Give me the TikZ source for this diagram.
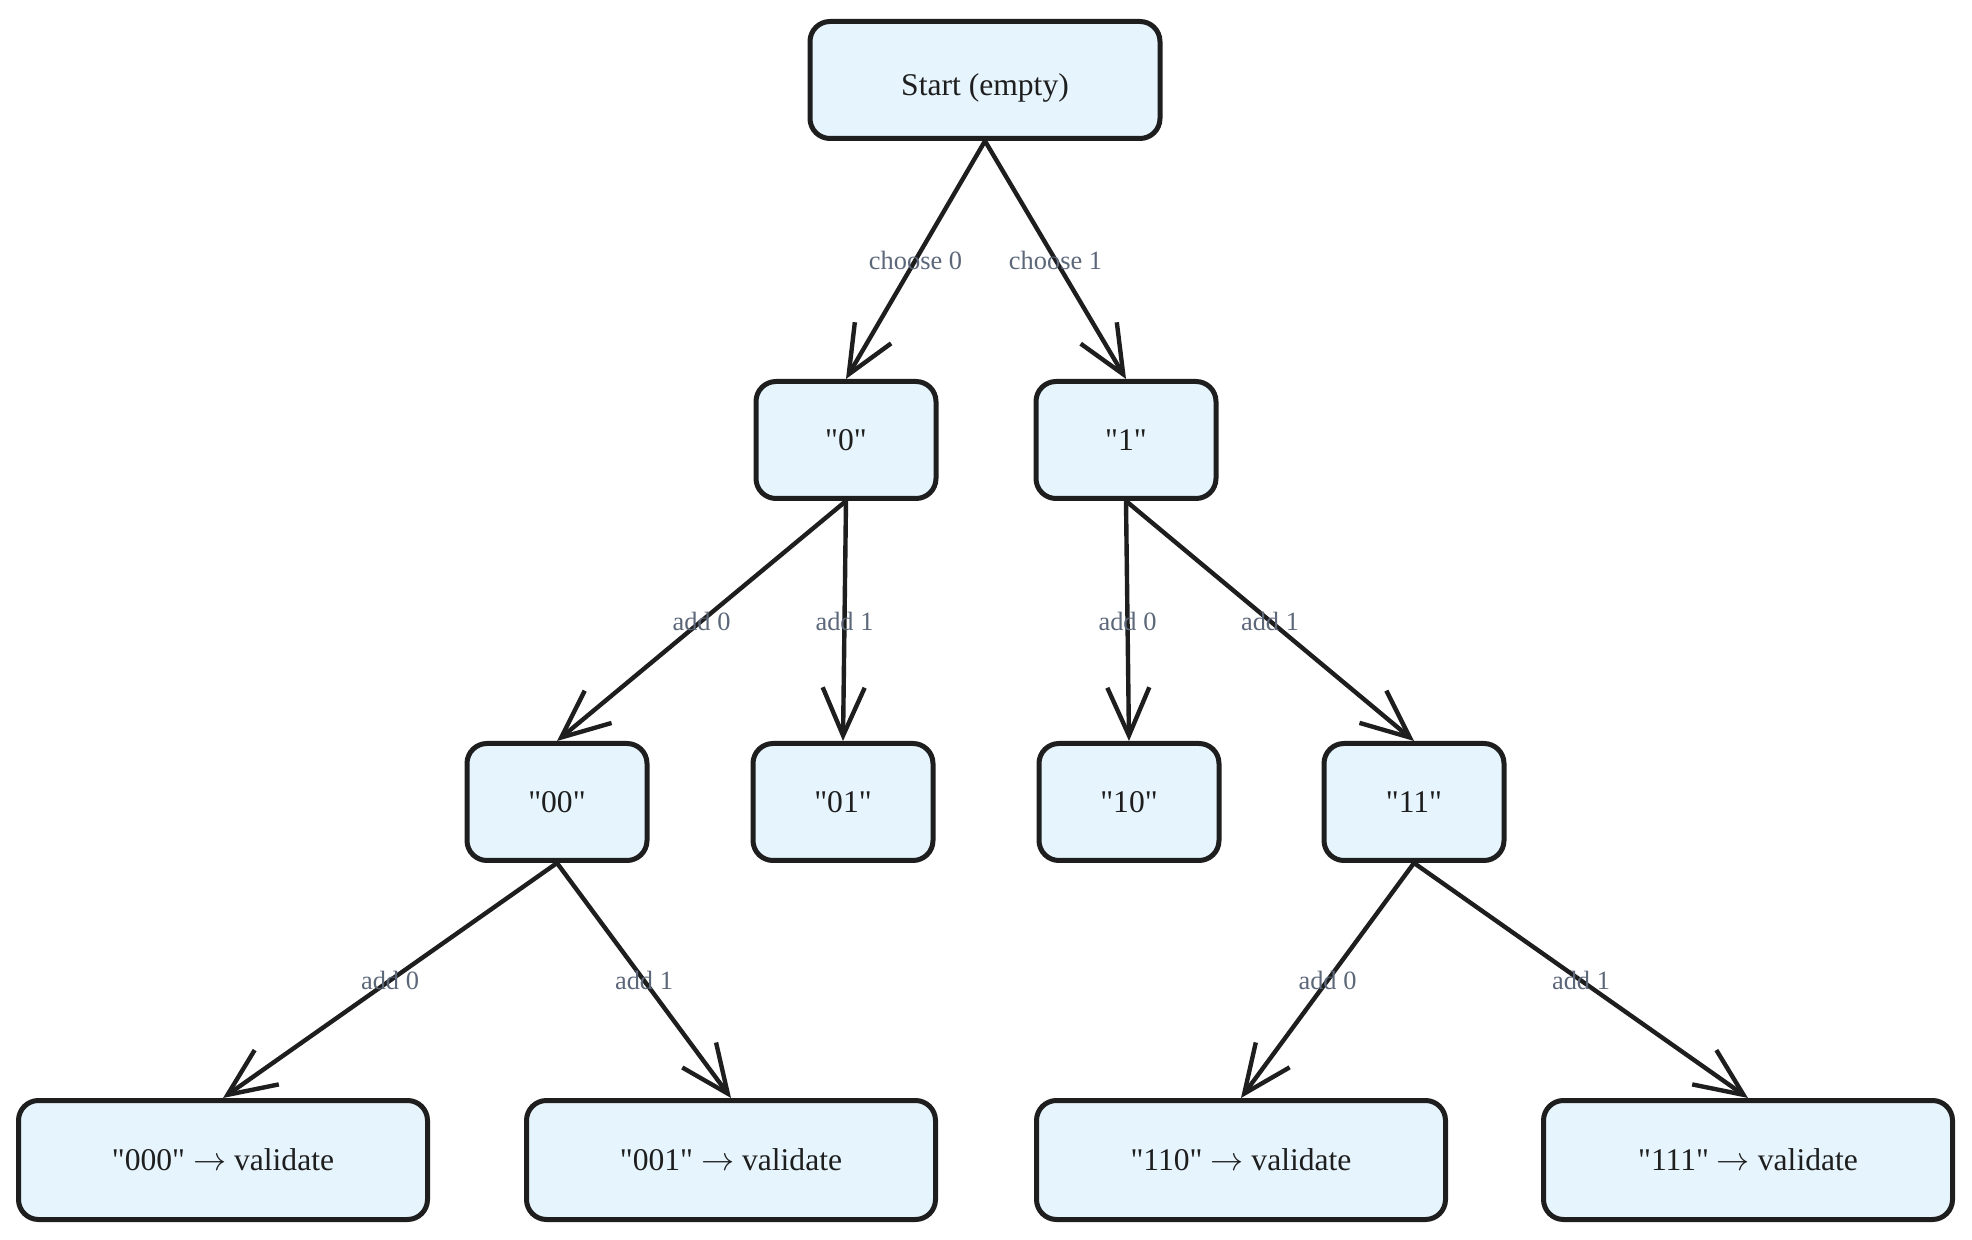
\documentclass[tikz,border=0pt]{standalone}
\usepackage{fontspec}
\setmainfont{Liberation Serif}[Ligatures=TeXOff]
\usetikzlibrary{arrows.meta}
\definecolor{nodefill}{HTML}{E6F4FD}
\definecolor{edgecol}{HTML}{1E1E1E}
\definecolor{labcol}{HTML}{5C6779}
\newcommand{\tto}{ \scalebox{1.15}{$\rightarrow$} }
\tikzset{
  box/.style={draw=edgecol, line width=2.5pt, fill=nodefill, rounded corners=10pt,
    minimum height=58.5pt, align=center, inner sep=0pt,
    font=\fontsize{15.8}{19}\selectfont, text=edgecol},
  lvl0/.style={box, minimum width=175pt, text height=15.5pt, text depth=0pt},
  lvl1/.style={box, minimum width=90pt},
  lvl3/.style={box, minimum width=204.5pt, minimum height=59.5pt},
  conn/.style={draw=edgecol, line width=2.2pt,
    -{Straight Barb[length=24pt, width=21pt, line width=2.2pt]}},
  lab/.style={font=\fontsize{13.2}{15}\selectfont, text=labcol, inner sep=1pt}
}
\begin{document}
\begin{tikzpicture}[x=0.5pt, y=-0.5pt]
\useasboundingbox (0,0) rectangle (1972,1240);
\node[lvl0] (start) at (985,80) {Start (empty)};
\node[lvl1] (n0) at (846,440) {"0"};
\node[lvl1] (n1) at (1126,440) {"1"};
\node[lvl1] (n00) at (557,802) {"00"};
\node[lvl1] (n01) at (843,802) {"01"};
\node[lvl1] (n10) at (1129,802) {"10"};
\node[lvl1] (n11) at (1414,802) {"11"};
\node[lvl3] (n000) at (223,1160) {"000"\tto validate};
\node[lvl3] (n001) at (731,1160) {"001"\tto validate};
\node[lvl3] (n110) at (1241,1160) {"110"\tto validate};
\node[lvl3] (n111) at (1748,1160) {"111"\tto validate};

\draw[conn] (start.south) -- node[lab] {choose 0} (n0.north);
\draw[conn] (start.south) -- node[lab] {choose 1} (n1.north);
\draw[conn] (n0.south) -- node[lab] {add 0} (n00.north);
\draw[conn] (n0.south) -- node[lab] {add 1} (n01.north);
\draw[conn] (n1.south) -- node[lab] {add 0} (n10.north);
\draw[conn] (n1.south) -- node[lab] {add 1} (n11.north);
\draw[conn] (n00.south) -- node[lab] {add 0} (n000.north);
\draw[conn] (n00.south) -- node[lab] {add 1} (n001.north);
\draw[conn] (n11.south) -- node[lab] {add 0} (n110.north);
\draw[conn] (n11.south) -- node[lab] {add 1} (n111.north);
\end{tikzpicture}
\end{document}
